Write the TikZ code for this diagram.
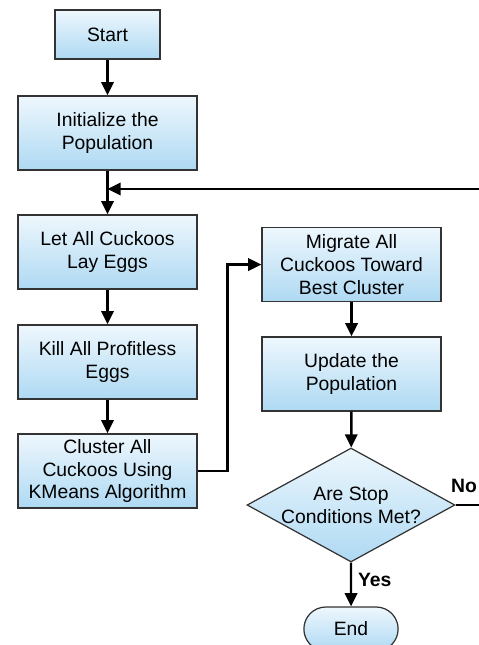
\documentclass[tikz,border=0pt]{standalone}
\usepackage{fontspec}
\setmainfont{Liberation Sans}
\usepackage{tikz}
\usetikzlibrary{shapes.geometric,shapes.misc,arrows.meta}
\definecolor{boxtop}{HTML}{EEF7FD}
\definecolor{boxbot}{HTML}{AED9F3}

\begin{document}
\begin{tikzpicture}[x=0.02cm,y=-0.02cm,
main node/.style={draw=black!80,line width=0.7pt,rectangle,top color=boxtop,bottom color=boxbot,
 align=center,font=\fontsize{11}{13}\selectfont,minimum width=3.58cm,minimum height=1.48cm,inner sep=2pt},
start node/.style={main node,minimum width=2.1cm,minimum height=0.98cm},
decision node/.style={draw=black!80,line width=0.7pt,diamond,aspect=1.82,top color=boxtop,bottom color=boxbot,
 align=center,font=\fontsize{11}{13}\selectfont,minimum width=4.16cm,minimum height=2.28cm,inner sep=0pt},
end node/.style={draw=black!80,line width=0.7pt,rounded rectangle,top color=boxtop,bottom color=boxbot,
 font=\fontsize{11}{13}\selectfont,minimum width=2.12cm,minimum height=0.88cm},
flow/.style={line width=1.4pt,-{Triangle[length=7.5pt,width=7pt]}},
answer/.style={font=\fontsize{11}{13}\selectfont\bfseries}]
\useasboundingbox (0,0) rectangle (479,645);
\clip (0,0) rectangle (479,645);
% left column
\node[start node] (start) at (107.5,34.5) {Start};
\node[main node] (init) at (107.5,133) {Initialize the\\Population};
\coordinate (junc) at (107.5,189);
\node[main node] (lay) at (107.5,252) {Let All Cuckoos\\Lay Eggs};
\node[main node] (kill) at (107.5,362) {Kill All Profitless\\Eggs};
\node[main node] (clust) at (107.5,471) {Cluster All\\Cuckoos Using\\KMeans Algorithm};
% right column
\node[main node] (migr) at (351.5,264.5) {Migrate All\\Cuckoos Toward\\Best Cluster};
\node[main node] (upd) at (351.5,374) {Update the\\Population};
\node[decision node] (stop) at (351,505) {Are Stop\\Conditions Met?};
\node[end node] (end) at (351,629) {End};
% arrows
\draw[flow] (start) -- (init);
\draw[flow] (init) -- (lay);
\draw[flow] (lay) -- (kill);
\draw[flow] (kill) -- (clust);
\draw[flow] (clust.east) -- ++(30,0) |- (migr.west);
\draw[flow] (migr) -- (upd);
\draw[flow] (upd) -- (stop);
\draw[flow] (stop) -- node[answer,right,pos=0.4] {Yes} (end);
\draw[flow] (stop.east) -- ++(32,0) |- (junc);
\node[answer] (no) at (464,486) {No};
\end{tikzpicture}
\end{document}
